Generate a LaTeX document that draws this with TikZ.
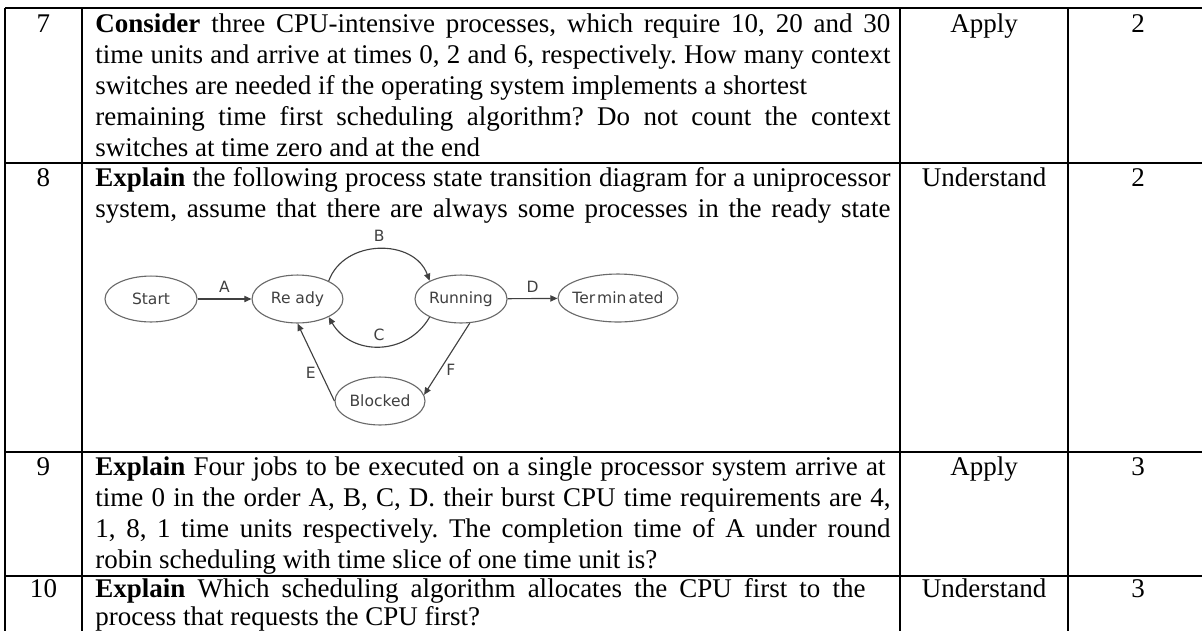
\documentclass[tikz,border=0pt]{standalone}
\usepackage{fontspec}
\setmainfont{Liberation Serif}
\newfontfamily\diagfont{DejaVu Sans}
\usetikzlibrary{arrows.meta,shapes.geometric}
\definecolor{ellcol}{HTML}{6A6A6A}
\definecolor{lblcol}{HTML}{404040}
\newcommand{\jline}[2]{\makebox[#1][s]{#2}}
\frenchspacing
\begin{document}
\begin{tikzpicture}[x=0.4444pt,y=-0.4444pt,
  rule/.style={line width=0.9pt,black},
  txt/.style={anchor=base west,inner sep=0pt,font=\fontsize{12}{13.8}\selectfont},
  ctr/.style={anchor=base,inner sep=0pt,font=\fontsize{12}{13.8}\selectfont},
  stext/.style={font=\diagfont\fontsize{6.9}{8}\selectfont,text=lblcol,inner sep=0pt},
  state/.style={ellipse,draw=ellcol,line width=0.5pt,inner sep=0pt},
  conn/.style={draw=lblcol,line width=0.5pt,-{Triangle[length=3.2pt,width=2.8pt]}},
  tlabel/.style={font=\diagfont\fontsize{6.9}{8}\selectfont,text=lblcol,inner sep=0pt}
]
\useasboundingbox (0,0) rectangle (1202,631);
% table rules
\draw[rule] (5,8) -- (1202,8);
\draw[rule] (5,163) -- (1202,163);
\draw[rule] (5,452) -- (1202,452);
\draw[rule] (5,576) -- (1202,576);
\draw[rule] (5,8) -- (5,631);
\draw[rule] (82,8) -- (82,631);
\draw[rule] (900,8) -- (900,631);
\draw[rule] (1068,8) -- (1068,631);

% row 7
\node[ctr] (n7) at (43.5,32) {7};
\node[txt] (r7a) at (95,32) {\jline{353.3pt}{\textbf{Consider} three CPU-intensive processes, which require 10, 20 and 30}};
\node[txt] (r7b) at (95,63) {\jline{353.3pt}{time units and arrive at times 0, 2 and 6, respectively. How many context}};
\node[txt] (r7c) at (95,94) {switches are needed if the operating system implements a shortest};
\node[txt] (r7d) at (95,125) {\jline{353.3pt}{remaining time first scheduling algorithm? Do not count the context}};
\node[txt] (r7e) at (95,156) {switches at time zero and at the end};
\node[ctr] (b7) at (984,32) {Apply};
\node[ctr] (m7) at (1138,32) {2};

% row 8
\node[ctr] (n8) at (43.5,186) {8};
\node[txt] (r8a) at (95,186) {\jline{353.3pt}{\textbf{Explain} the following process state transition diagram for a uniprocessor}};
\node[txt] (r8b) at (95,217) {\jline{353.3pt}{system, assume that there are always some processes in the ready state}};
\node[ctr] (b8) at (984,186) {Understand};
\node[ctr] (m8) at (1138,186) {2};

% diagram
\node[state,minimum width=40.9pt,minimum height=20.4pt,label={[stext]center:Start}] (start) at (151,299) {};
\node[state,minimum width=40.4pt,minimum height=21.3pt,label={[stext]center:Re ady}] (ready) at (297.5,299) {};
\node[state,minimum width=40.9pt,minimum height=21.3pt,label={[stext]center:Running}] (running) at (461,299) {};
\node[state,minimum width=53.3pt,minimum height=21.3pt,label={[stext]center:{\spaceskip=0.9pt Ter min ated}}] (term) at (618,298) {};
\node[state,minimum width=40pt,minimum height=21.3pt,label={[stext]center:Blocked}] (blocked) at (380,401) {};

\draw[conn] (start) -- node[tlabel,above=2.5pt] {A} (ready);
\draw[conn] (ready.30) to[out=70,in=110,looseness=1.15] node[tlabel,above=3pt] {B} (running.150);
\draw[conn] (running.210) to[out=240,in=300,looseness=1.15] node[tlabel,above=2.5pt] {C} (ready.330);
\draw[conn] (running) -- node[tlabel,above=2.5pt] {D} (term);
\draw[conn] (blocked.west) -- node[tlabel,pos=0.37,left=2pt] {E} (ready.south);
\draw[conn] (running.290) -- node[tlabel,pos=0.65,right=2.5pt] {F} (blocked.8);

% row 9
\node[ctr] (n9) at (43.5,475) {9};
\node[txt] (r9a) at (95,475) {\jline{351.1pt}{\textbf{Explain} Four jobs to be executed on a single processor system arrive at}};
\node[txt] (r9b) at (95,506) {\jline{353.3pt}{time 0 in the order A, B, C, D. their burst CPU time requirements are 4,}};
\node[txt] (r9c) at (95,537) {\jline{353.3pt}{1, 8, 1 time units respectively. The completion time of A under round}};
\node[txt] (r9d) at (95,568) {robin scheduling with time slice of one time unit is?};
\node[ctr] (b9) at (984,475) {Apply};
\node[ctr] (m9) at (1138,475) {3};

% row 10
\node[ctr] (n10) at (43.5,597) {10};
\node[txt] (r10a) at (95,597) {\jline{342.2pt}{\textbf{Explain} Which scheduling algorithm allocates the CPU first to the}};
\node[txt] (r10b) at (95,625) {process that requests the CPU first?};
\node[ctr] (b10) at (984,597) {Understand};
\node[ctr] (m10) at (1138,597) {3};
\end{tikzpicture}
\end{document}
